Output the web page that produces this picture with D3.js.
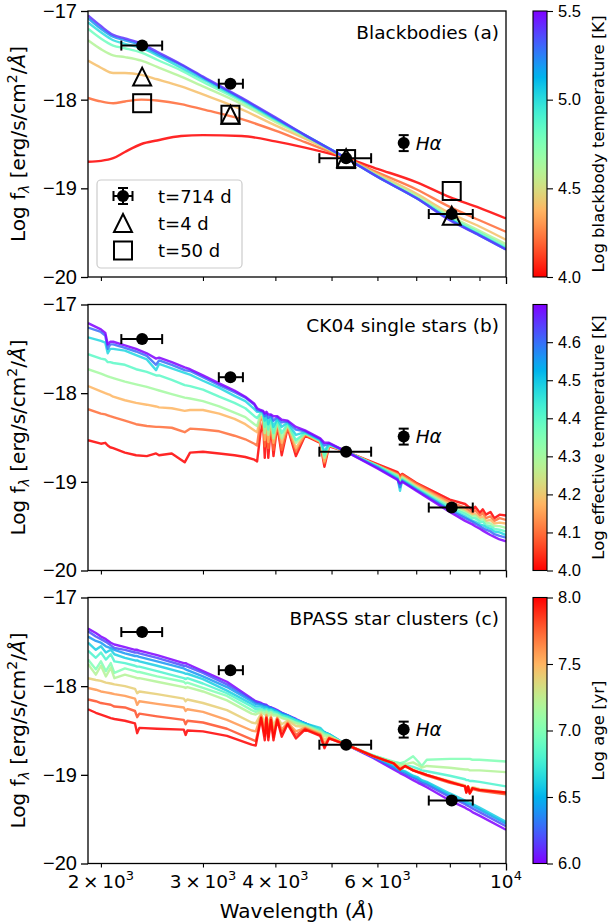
<!DOCTYPE html>
<html>
<head>
<meta charset="utf-8">
<script src="https://cdn.jsdelivr.net/npm/d3@7"></script>
<style>
  body { margin: 0; background: #fff; }
  svg { display: block; font-family: "DejaVu Sans", sans-serif; }
</style>
</head>
<body>
<div class="canvas"></div>
<script>
// observed SED at t=714 d (same in all three panels)
const obsWave = [2356, 3346, 5298, 8060];
const obsWaveLo = [2169, 3195, 4764, 7358];
const obsWaveHi = [2551, 3516, 5852, 8763];
const obsFlux = [-17.39, -17.82, -18.66, -19.29];
const obsFluxErr = [0, 0, 0.01, 0.03];
const haWave = 6660;
const haFlux = -18.49;
const haErr = 0.09;

// early epochs, panel (a)
const flux4d = [-17.74, -18.17, -18.66, -19.31];
const flux50d = [-18.04, -18.17, -18.67, -19.03];

// blackbodies (a)
const bbWave = [1900, 2000, 2100, 2200, 2350, 2500, 2750, 3000, 3500, 4000, 4500, 5300, 6000, 7000, 8000, 9000, 10000];
const bbLogT = [4.0, 4.2, 4.4, 4.6, 4.8, 5.0, 5.2, 5.4];
const bbFlux = [
  [-18.70, -18.69, -18.66, -18.59, -18.50, -18.46, -18.41, -18.40, -18.41, -18.47, -18.54, -18.66, -18.78, -18.93, -19.10, -19.22, -19.34],
  [-17.98, -18.02, -18.04, -18.02, -18.00, -18.01, -18.05, -18.11, -18.22, -18.35, -18.48, -18.66, -18.82, -19.01, -19.21, -19.36, -19.49],
  [-17.56, -17.64, -17.70, -17.70, -17.72, -17.77, -17.85, -17.94, -18.11, -18.29, -18.44, -18.66, -18.84, -19.06, -19.28, -19.43, -19.58],
  [-17.33, -17.43, -17.50, -17.52, -17.56, -17.63, -17.74, -17.85, -18.05, -18.25, -18.42, -18.66, -18.86, -19.08, -19.31, -19.48, -19.63],
  [-17.20, -17.31, -17.39, -17.42, -17.47, -17.55, -17.67, -17.80, -18.02, -18.23, -18.41, -18.66, -18.86, -19.10, -19.33, -19.50, -19.66],
  [-17.13, -17.24, -17.33, -17.37, -17.42, -17.50, -17.64, -17.77, -18.00, -18.22, -18.40, -18.66, -18.87, -19.11, -19.35, -19.52, -19.68],
  [-17.08, -17.20, -17.29, -17.33, -17.39, -17.48, -17.61, -17.75, -17.99, -18.21, -18.40, -18.66, -18.87, -19.11, -19.35, -19.53, -19.69],
  [-17.05, -17.17, -17.27, -17.31, -17.37, -17.46, -17.60, -17.74, -17.98, -18.20, -18.40, -18.66, -18.87, -19.11, -19.36, -19.53, -19.69]
];

// CK04 single stars (b)
const ckWave = [1900, 2000, 2035, 2055, 2075, 2100, 2200, 2300, 2400, 2490, 2520, 2650, 2790, 2850, 3000, 3200, 3400, 3550, 3680, 3720,
  3770, 3810, 3835, 3860, 3889, 3930, 3970, 4030, 4102, 4200, 4340, 4500, 4780, 4861, 4950, 5300, 6000, 6500, 6563, 6620,
  7000, 8000, 8500, 8750, 8850, 9015, 9120, 9230, 9400, 9546, 9750, 10000];
const ckLogT = [4.0, 4.097, 4.176, 4.301, 4.398, 4.477, 4.602, 4.699];
const ckFlux = [
  [-18.53, -18.57, -18.56, -18.59, -18.61, -18.62, -18.67, -18.70, -18.71, -18.68, -18.70, -18.68, -18.78, -18.67, -18.66, -18.68, -18.70, -18.72, -18.75, -18.77,
   -18.45, -18.33, -18.73, -18.33, -18.73, -18.35, -18.71, -18.36, -18.70, -18.39, -18.71, -18.48, -18.56, -18.83, -18.60, -18.66, -18.80, -18.89, -18.93, -18.91,
   -19.01, -19.20, -19.25, -19.32, -19.28, -19.35, -19.31, -19.37, -19.34, -19.41, -19.37, -19.38],
  [-18.18, -18.23, -18.24, -18.25, -18.26, -18.27, -18.31, -18.35, -18.37, -18.38, -18.38, -18.39, -18.44, -18.40, -18.41, -18.43, -18.48, -18.52, -18.57, -18.59,
   -18.30, -18.29, -18.60, -18.31, -18.62, -18.33, -18.64, -18.34, -18.64, -18.38, -18.66, -18.47, -18.55, -18.79, -18.59, -18.66, -18.81, -18.91, -18.96, -18.92,
   -19.02, -19.23, -19.29, -19.35, -19.32, -19.38, -19.35, -19.41, -19.39, -19.44, -19.41, -19.43],
  [-17.92, -17.98, -18.00, -18.01, -18.02, -18.04, -18.08, -18.11, -18.13, -18.15, -18.16, -18.17, -18.20, -18.19, -18.19, -18.23, -18.29, -18.35, -18.42, -18.44,
   -18.27, -18.27, -18.53, -18.29, -18.55, -18.30, -18.56, -18.32, -18.56, -18.36, -18.62, -18.46, -18.55, -18.77, -18.59, -18.66, -18.82, -18.92, -18.99, -18.94,
   -19.04, -19.25, -19.32, -19.37, -19.36, -19.41, -19.39, -19.44, -19.43, -19.47, -19.46, -19.47],
  [-17.73, -17.78, -17.80, -17.81, -17.82, -17.83, -17.87, -17.90, -17.93, -17.96, -17.97, -18.01, -18.05, -18.06, -18.09, -18.15, -18.22, -18.27, -18.35, -18.37,
   -18.24, -18.25, -18.45, -18.26, -18.47, -18.29, -18.51, -18.31, -18.51, -18.35, -18.56, -18.45, -18.54, -18.73, -18.58, -18.66, -18.82, -18.93, -19.02, -18.95,
   -19.06, -19.27, -19.34, -19.39, -19.38, -19.43, -19.42, -19.46, -19.47, -19.50, -19.50, -19.52],
  [-17.56, -17.61, -17.62, -17.65, -17.65, -17.66, -17.68, -17.73, -17.76, -17.80, -17.80, -17.85, -17.91, -17.92, -17.96, -18.04, -18.11, -18.17, -18.26, -18.28,
   -18.23, -18.23, -18.38, -18.25, -18.41, -18.27, -18.45, -18.30, -18.45, -18.34, -18.53, -18.45, -18.53, -18.70, -18.58, -18.66, -18.82, -18.94, -19.06, -18.97,
   -19.07, -19.29, -19.36, -19.41, -19.41, -19.45, -19.45, -19.49, -19.50, -19.53, -19.54, -19.56],
  [-17.37, -17.41, -17.43, -17.55, -17.50, -17.50, -17.52, -17.57, -17.62, -17.74, -17.67, -17.72, -17.77, -17.79, -17.86, -17.94, -18.03, -18.09, -18.18, -18.21,
   -18.21, -18.22, -18.31, -18.24, -18.35, -18.26, -18.38, -18.29, -18.38, -18.33, -18.47, -18.44, -18.53, -18.66, -18.57, -18.66, -18.83, -18.96, -19.10, -18.98,
   -19.08, -19.31, -19.39, -19.44, -19.45, -19.48, -19.49, -19.51, -19.53, -19.56, -19.57, -19.60],
  [-17.26, -17.31, -17.35, -17.50, -17.45, -17.45, -17.49, -17.53, -17.58, -17.68, -17.63, -17.68, -17.74, -17.75, -17.82, -17.91, -17.99, -18.05, -18.13, -18.19,
   -18.20, -18.21, -18.26, -18.23, -18.28, -18.25, -18.31, -18.27, -18.33, -18.32, -18.41, -18.43, -18.52, -18.59, -18.57, -18.66, -18.84, -18.97, -19.06, -18.99,
   -19.09, -19.32, -19.41, -19.45, -19.47, -19.50, -19.52, -19.54, -19.56, -19.59, -19.61, -19.63],
  [-17.21, -17.28, -17.32, -17.45, -17.42, -17.42, -17.46, -17.50, -17.55, -17.61, -17.60, -17.65, -17.71, -17.73, -17.80, -17.89, -17.97, -18.04, -18.12, -18.17,
   -18.19, -18.20, -18.23, -18.21, -18.24, -18.24, -18.26, -18.26, -18.30, -18.31, -18.38, -18.42, -18.51, -18.56, -18.56, -18.66, -18.85, -18.98, -19.02, -19.00,
   -19.10, -19.34, -19.44, -19.48, -19.50, -19.53, -19.55, -19.57, -19.60, -19.62, -19.65, -19.67]
];

// BPASS star clusters (c)
const bpWave = [1900, 1960, 2000, 2040, 2080, 2110, 2200, 2290, 2310, 2330, 2500, 2780, 2800, 2820, 3000, 3300, 3640, 3700, 3780, 3835,
  3860, 3889, 3930, 3970, 4030, 4102, 4200, 4340, 4500, 4780, 4861, 4950, 5300, 5900, 6400, 6563, 6700, 6914, 7050, 7157,
  7300, 8000, 8500, 8540, 8600, 8660, 8750, 9000, 10000];
const bpLogAge = [6.0, 6.2, 6.4, 6.6, 6.8, 7.0, 7.2, 7.4, 7.6, 7.8, 8.0];
const bpFlux = [
  [-17.35, -17.40, -17.44, -17.47, -17.51, -17.53, -17.56, -17.59, -17.59, -17.60, -17.65, -17.74, -17.74, -17.75, -17.83, -17.95, -18.14, -18.17, -18.19, -18.21,
   -18.21, -18.23, -18.24, -18.25, -18.27, -18.30, -18.33, -18.37, -18.42, -18.50, -18.52, -18.55, -18.66, -18.81, -18.94, -18.98, -19.01, -19.06, -19.09, -19.11,
   -19.14, -19.29, -19.37, -19.38, -19.39, -19.40, -19.42, -19.46, -19.62],
  [-17.38, -17.44, -17.47, -17.50, -17.54, -17.57, -17.59, -17.62, -17.62, -17.63, -17.68, -17.77, -17.77, -17.78, -17.85, -17.98, -18.15, -18.18, -18.20, -18.21,
   -18.22, -18.23, -18.24, -18.26, -18.28, -18.30, -18.33, -18.38, -18.42, -18.50, -18.52, -18.55, -18.66, -18.80, -18.92, -18.96, -18.99, -19.03, -19.06, -19.09,
   -19.11, -19.25, -19.33, -19.34, -19.35, -19.36, -19.38, -19.42, -19.58],
  [-17.44, -17.49, -17.51, -17.55, -17.57, -17.59, -17.63, -17.66, -17.66, -17.67, -17.72, -17.80, -17.81, -17.82, -17.89, -18.01, -18.17, -18.20, -18.21, -18.23,
   -18.23, -18.24, -18.25, -18.26, -18.28, -18.31, -18.33, -18.38, -18.42, -18.49, -18.52, -18.54, -18.66, -18.79, -18.91, -18.95, -18.97, -19.02, -19.04, -19.07,
   -19.09, -19.23, -19.31, -19.32, -19.33, -19.33, -19.35, -19.39, -19.55],
  [-17.51, -17.59, -17.55, -17.62, -17.59, -17.64, -17.68, -17.71, -17.71, -17.72, -17.77, -17.85, -17.86, -17.86, -17.92, -18.05, -18.20, -18.23, -18.23, -18.25,
   -18.24, -18.26, -18.26, -18.27, -18.29, -18.32, -18.34, -18.38, -18.42, -18.47, -18.52, -18.54, -18.66, -18.79, -18.89, -18.94, -18.96, -19.01, -19.03, -19.06,
   -19.08, -19.21, -19.29, -19.30, -19.31, -19.32, -19.33, -19.37, -19.53],
  [-17.60, -17.68, -17.62, -17.70, -17.64, -17.72, -17.74, -17.77, -17.78, -17.78, -17.83, -17.91, -17.92, -17.91, -17.97, -18.08, -18.23, -18.26, -18.26, -18.27,
   -18.26, -18.28, -18.27, -18.29, -18.30, -18.33, -18.35, -18.39, -18.44, -18.49, -18.53, -18.55, -18.66, -18.78, -18.86, -18.87, -18.89, -18.91, -18.93, -18.95,
   -18.96, -19.01, -19.05, -19.06, -19.06, -19.07, -19.07, -19.08, -19.13],
  [-17.70, -17.81, -17.72, -17.83, -17.74, -17.85, -17.80, -17.83, -17.84, -17.84, -17.89, -17.95, -17.97, -17.96, -18.02, -18.11, -18.27, -18.29, -18.27, -18.29,
   -18.28, -18.30, -18.29, -18.31, -18.32, -18.35, -18.37, -18.41, -18.44, -18.51, -18.54, -18.56, -18.66, -18.78, -18.85, -18.87, -18.85, -18.79, -18.85, -18.90,
   -18.83, -18.82, -18.82, -18.82, -18.82, -18.82, -18.83, -18.83, -18.85],
  [-17.75, -17.87, -17.77, -17.89, -17.79, -17.91, -17.87, -17.90, -17.91, -17.91, -17.95, -18.01, -18.02, -18.01, -18.06, -18.16, -18.31, -18.32, -18.29, -18.32,
   -18.29, -18.33, -18.30, -18.33, -18.33, -18.36, -18.38, -18.42, -18.45, -18.52, -18.56, -18.56, -18.66, -18.79, -18.86, -18.89, -18.88, -18.86, -18.89, -18.92,
   -18.90, -18.92, -18.94, -18.94, -18.94, -18.95, -18.95, -18.95, -18.97],
  [-17.91, -17.93, -17.94, -17.96, -17.97, -17.98, -18.00, -18.03, -18.08, -18.06, -18.09, -18.14, -18.17, -18.15, -18.19, -18.27, -18.41, -18.42, -18.31, -18.43,
   -18.32, -18.44, -18.33, -18.45, -18.35, -18.43, -18.39, -18.45, -18.46, -18.53, -18.60, -18.57, -18.66, -18.79, -18.87, -18.91, -18.91, -18.94, -18.96, -18.98,
   -19.00, -19.07, -19.12, -19.16, -19.13, -19.17, -19.14, -19.16, -19.20],
  [-18.02, -18.04, -18.06, -18.07, -18.08, -18.09, -18.11, -18.14, -18.21, -18.17, -18.20, -18.24, -18.28, -18.26, -18.29, -18.38, -18.50, -18.51, -18.33, -18.51,
   -18.33, -18.53, -18.35, -18.53, -18.36, -18.49, -18.41, -18.51, -18.47, -18.54, -18.65, -18.58, -18.66, -18.79, -18.87, -18.93, -18.90, -18.95, -18.97, -18.98,
   -19.00, -19.08, -19.13, -19.19, -19.13, -19.20, -19.15, -19.17, -19.21],
  [-18.15, -18.17, -18.19, -18.20, -18.21, -18.23, -18.24, -18.28, -18.35, -18.31, -18.34, -18.38, -18.43, -18.39, -18.41, -18.48, -18.60, -18.62, -18.35, -18.56,
   -18.35, -18.57, -18.36, -18.57, -18.37, -18.53, -18.42, -18.55, -18.48, -18.55, -18.68, -18.59, -18.66, -18.79, -18.87, -18.94, -18.90, -18.95, -18.97, -18.99,
   -19.01, -19.09, -19.13, -19.20, -19.14, -19.21, -19.16, -19.18, -19.22],
  [-18.26, -18.30, -18.32, -18.34, -18.36, -18.37, -18.39, -18.42, -18.53, -18.47, -18.48, -18.49, -18.55, -18.50, -18.51, -18.56, -18.66, -18.67, -18.36, -18.61,
   -18.36, -18.61, -18.38, -18.61, -18.38, -18.57, -18.43, -18.59, -18.49, -18.56, -18.70, -18.59, -18.66, -18.79, -18.87, -18.94, -18.90, -18.95, -18.97, -18.98,
   -19.00, -19.08, -19.13, -19.20, -19.13, -19.21, -19.15, -19.17, -19.20]
];

// ticks
const yTicks = [-20, -19, -18, -17];
const xMinorTicks = [2000, 3000, 4000, 5000, 6000, 7000, 8000, 9000];
const xMajorTicks = [10000];
const xLabelWave = [2000, 3000, 4000, 6000, 10000];
const xLabelMant = ['2', '3', '4', '6', ''];
const xLabelExp = ['3', '3', '3', '3', '4'];
const bbTicks = [4.0, 4.5, 5.0, 5.5];
const ckTicks = [4.0, 4.1, 4.2, 4.3, 4.4, 4.5, 4.6];
const bpTicks = [6.0, 6.5, 7.0, 7.5, 8.0];

const width = 609, height = 924;
const plot = { left: 88, right: 506, h: 266 };
const tops = [11, 304.5, 597.5];
const cbar = { x: 533, w: 14 };

// matplotlib 'rainbow' colormap
const rainbow = t => {
  t = Math.max(0, Math.min(1, t));
  const r = Math.min(1, Math.abs(2 * t - 0.5));
  const g = Math.max(0, Math.sin(Math.PI * t));
  const b = Math.max(0, Math.cos(Math.PI * t / 2));
  return d3.rgb(r * 255, g * 255, b * 255).formatHex();
};

const panels = [
  { title: 'Blackbodies (a)', wave: bbWave, param: bbLogT, flux: bbFlux, cmin: 4.0, cmax: 5.5, reverse: true,
    cticks: bbTicks, clabel: 'Log blackbody temperature [K]' },
  { title: 'CK04 single stars (b)', wave: ckWave, param: ckLogT, flux: ckFlux, cmin: 4.0, cmax: 4.699, reverse: true,
    cticks: ckTicks, clabel: 'Log effective temperature [K]' },
  { title: 'BPASS star clusters (c)', wave: bpWave, param: bpLogAge, flux: bpFlux, cmin: 6.0, cmax: 8.0, reverse: false,
    cticks: bpTicks, clabel: 'Log age [yr]' }
];

const svg = d3.select('.canvas')
  .append('svg')
  .attr('width', width)
  .attr('height', height);

const defs = svg.append('defs');

const x = d3.scaleLog().domain([1900, 10000]).range([plot.left, plot.right]);

const errCap = 5;

// filled circle with error bars
const errPoint = (g, y, cx, x0, x1, cy, yerr) => {
  const px = x(cx), py = y(cy);
  const eg = g.append('g').attr('stroke', '#000').attr('stroke-width', 2);
  eg.append('line').attr('x1', x(x0)).attr('x2', x(x1)).attr('y1', py).attr('y2', py);
  eg.append('line').attr('x1', x(x0)).attr('x2', x(x0)).attr('y1', py - errCap).attr('y2', py + errCap);
  eg.append('line').attr('x1', x(x1)).attr('x2', x(x1)).attr('y1', py - errCap).attr('y2', py + errCap);
  if (yerr > 0) {
    eg.append('line').attr('x1', px).attr('x2', px).attr('y1', y(cy - yerr)).attr('y2', y(cy + yerr));
    eg.append('line').attr('x1', px - errCap).attr('x2', px + errCap).attr('y1', y(cy - yerr)).attr('y2', y(cy - yerr));
    eg.append('line').attr('x1', px - errCap).attr('x2', px + errCap).attr('y1', y(cy + yerr)).attr('y2', y(cy + yerr));
  }
  g.append('circle').attr('cx', px).attr('cy', py).attr('r', 6).attr('fill', '#000');
};

const triPath = 'M0,-9L9,9L-9,9Z';

panels.forEach((p, i) => {
  const top = tops[i];
  const bottom = top + plot.h;
  const y = d3.scaleLinear().domain([-20, -17]).range([bottom, top]);
  const color = v => {
    const t = (v - p.cmin) / (p.cmax - p.cmin);
    return rainbow(p.reverse ? 1 - t : t);
  };

  const g = svg.append('g');

  defs.append('clipPath').attr('id', `clip${i}`)
    .append('rect')
    .attr('x', plot.left).attr('y', top)
    .attr('width', plot.right - plot.left).attr('height', plot.h);

  // model spectra
  const line = d3.line()
    .x(d => x(d[0]))
    .y(d => y(d[1]))
    .curve(i === 0 ? d3.curveMonotoneX : d3.curveLinear);

  const lines = g.append('g').attr('clip-path', `url(#clip${i})`);
  p.param.forEach((v, k) => {
    lines.append('path')
      .attr('d', line(d3.zip(p.wave, p.flux[k])))
      .attr('fill', 'none')
      .attr('stroke', color(v))
      .attr('stroke-width', 2.4)
      .attr('stroke-opacity', 0.85)
      .attr('stroke-linejoin', 'round');
  });

  // early epochs only in (a)
  if (i === 0) {
    obsWave.forEach((w, k) => {
      g.append('rect')
        .attr('x', x(w) - 9).attr('y', y(flux50d[k]) - 9)
        .attr('width', 18).attr('height', 18)
        .attr('fill', 'none').attr('stroke', '#000').attr('stroke-width', 2);
    });
    obsWave.forEach((w, k) => {
      g.append('path')
        .attr('d', triPath)
        .attr('transform', `translate(${x(w)},${y(flux4d[k])})`)
        .attr('fill', 'none').attr('stroke', '#000').attr('stroke-width', 2);
    });
  }

  // t = 714 d photometry
  obsWave.forEach((w, k) => {
    errPoint(g, y, w, obsWaveLo[k], obsWaveHi[k], obsFlux[k], obsFluxErr[k]);
  });

  // H-alpha point (vertical error only)
  const hx = x(haWave);
  const hg = g.append('g').attr('stroke', '#000').attr('stroke-width', 2);
  hg.append('line').attr('x1', hx).attr('x2', hx).attr('y1', y(haFlux - haErr)).attr('y2', y(haFlux + haErr));
  hg.append('line').attr('x1', hx - errCap).attr('x2', hx + errCap).attr('y1', y(haFlux - haErr)).attr('y2', y(haFlux - haErr));
  hg.append('line').attr('x1', hx - errCap).attr('x2', hx + errCap).attr('y1', y(haFlux + haErr)).attr('y2', y(haFlux + haErr));
  g.append('circle').attr('cx', hx).attr('cy', y(haFlux)).attr('r', 6).attr('fill', '#000');
  g.append('text')
    .attr('x', hx + 12).attr('y', y(haFlux) + 6.5)
    .style('font-size', '18.5px').style('font-style', 'italic')
    .text('Hα');

  // title
  g.append('text')
    .attr('x', plot.right - 7).attr('y', top + 27.5)
    .attr('text-anchor', 'end')
    .style('font-size', '18.5px')
    .text(p.title);

  // frame
  g.append('rect')
    .attr('x', plot.left).attr('y', top)
    .attr('width', plot.right - plot.left).attr('height', plot.h)
    .attr('fill', 'none').attr('stroke', '#000').attr('stroke-width', 1.3);

  // y axis
  g.append('g')
    .attr('transform', `translate(${plot.left},0)`)
    .call(d3.axisLeft(y).tickValues(yTicks).tickSize(7).tickPadding(4).tickFormat(d3.format('d')))
    .call(a => a.select('.domain').remove())
    .call(a => a.selectAll('line').attr('stroke-width', 1.3))
    .call(a => a.selectAll('text').attr('font-size', null).style('font-size', '20px').attr('font-family', null));

  // x ticks
  g.append('g')
    .attr('transform', `translate(0,${bottom})`)
    .call(d3.axisBottom(x).tickValues(xMinorTicks).tickSize(4).tickFormat(''))
    .call(a => a.select('.domain').remove())
    .call(a => a.selectAll('line').attr('stroke-width', 1.1));
  g.append('g')
    .attr('transform', `translate(0,${bottom})`)
    .call(d3.axisBottom(x).tickValues(xMajorTicks).tickSize(7).tickFormat(''))
    .call(a => a.select('.domain').remove())
    .call(a => a.selectAll('line').attr('stroke-width', 1.3));

  // y label
  const cy = top + plot.h / 2;
  const yl = g.append('text')
    .attr('transform', `translate(25,${cy}) rotate(-90)`)
    .attr('text-anchor', 'middle')
    .style('font-size', '20px');
  yl.append('tspan').text('Log f');
  yl.append('tspan').attr('dy', 4).style('font-size', '14px').style('font-style', 'italic').text('λ');
  yl.append('tspan').attr('dy', -4).text(' [erg/s/cm');
  yl.append('tspan').attr('dy', -8).style('font-size', '14px').text('2');
  yl.append('tspan').attr('dy', 8).text('/');
  yl.append('tspan').style('font-style', 'italic').text('Å');
  yl.append('tspan').text(']');

  // colorbar
  const gid = `cgrad${i}`;
  const grad = defs.append('linearGradient').attr('id', gid)
    .attr('x1', 0).attr('y1', 1).attr('x2', 0).attr('y2', 0);
  d3.range(0, 1.0001, 0.025).forEach(t => {
    grad.append('stop').attr('offset', t).attr('stop-color', rainbow(p.reverse ? 1 - t : t));
  });
  g.append('rect')
    .attr('x', cbar.x).attr('y', top)
    .attr('width', cbar.w).attr('height', plot.h)
    .attr('fill', `url(#${gid})`)
    .attr('stroke', '#000').attr('stroke-width', 1.1);
  const cs = d3.scaleLinear().domain([p.cmin, p.cmax]).range([bottom, top]);
  g.append('g')
    .attr('transform', `translate(${cbar.x + cbar.w},0)`)
    .call(d3.axisRight(cs).tickValues(p.cticks).tickSize(6).tickPadding(5).tickFormat(d3.format('.1f')))
    .call(a => a.select('.domain').remove())
    .call(a => a.selectAll('line').attr('stroke-width', 1.1))
    .call(a => a.selectAll('text').attr('font-size', null).style('font-size', '16.5px').attr('font-family', null));
  g.append('text')
    .attr('transform', `translate(604,${cy}) rotate(-90)`)
    .attr('text-anchor', 'middle')
    .style('font-size', '16.5px')
    .text(p.clabel);

  // bottom panel: x tick labels and x label
  if (i === 2) {
    xLabelWave.forEach((w, k) => {
      const t = g.append('text')
        .attr('x', x(w)).attr('y', bottom + 24)
        .attr('text-anchor', 'middle')
        .style('font-size', '18.5px');
      t.append('tspan').text(xLabelMant[k] ? `${xLabelMant[k]}\u2009×\u200910` : '10');
      t.append('tspan').attr('dy', -8).style('font-size', '13px').text(xLabelExp[k]);
    });
    const xl = g.append('text')
      .attr('x', (plot.left + plot.right) / 2).attr('y', bottom + 54)
      .attr('text-anchor', 'middle')
      .style('font-size', '20px');
    xl.append('tspan').text('Wavelength (');
    xl.append('tspan').style('font-style', 'italic').text('Å');
    xl.append('tspan').text(')');
  }

  // legend in (a)
  if (i === 0) {
    const lg = g.append('g');
    lg.append('rect')
      .attr('x', 97).attr('y', top + 169).attr('width', 145).attr('height', 88)
      .attr('rx', 4)
      .attr('fill', '#fff').attr('fill-opacity', 0.8)
      .attr('stroke', '#ccc').attr('stroke-width', 1.2);
    const mx = 123;
    const rows = [top + 185, top + 212, top + 239.5];
    const e = lg.append('g').attr('stroke', '#000').attr('stroke-width', 2);
    e.append('line').attr('x1', mx - 9.5).attr('x2', mx + 9.5).attr('y1', rows[0]).attr('y2', rows[0]);
    e.append('line').attr('x1', mx - 9.5).attr('x2', mx - 9.5).attr('y1', rows[0] - errCap).attr('y2', rows[0] + errCap);
    e.append('line').attr('x1', mx + 9.5).attr('x2', mx + 9.5).attr('y1', rows[0] - errCap).attr('y2', rows[0] + errCap);
    e.append('line').attr('x1', mx).attr('x2', mx).attr('y1', rows[0] - 8).attr('y2', rows[0] + 8);
    e.append('line').attr('x1', mx - errCap).attr('x2', mx + errCap).attr('y1', rows[0] - 8).attr('y2', rows[0] - 8);
    e.append('line').attr('x1', mx - errCap).attr('x2', mx + errCap).attr('y1', rows[0] + 8).attr('y2', rows[0] + 8);
    lg.append('circle').attr('cx', mx).attr('cy', rows[0]).attr('r', 6).attr('fill', '#000');
    lg.append('path').attr('d', triPath).attr('transform', `translate(${mx},${rows[1]})`)
      .attr('fill', 'none').attr('stroke', '#000').attr('stroke-width', 2);
    lg.append('rect').attr('x', mx - 9).attr('y', rows[2] - 9).attr('width', 18).attr('height', 18)
      .attr('fill', 'none').attr('stroke', '#000').attr('stroke-width', 2);
    ['t=714 d', 't=4 d', 't=50 d'].forEach((s, k) => {
      lg.append('text').attr('x', 158).attr('y', rows[k] + 6.5)
        .style('font-size', '18px').text(s);
    });
  }
});
</script>
</body>
</html>
